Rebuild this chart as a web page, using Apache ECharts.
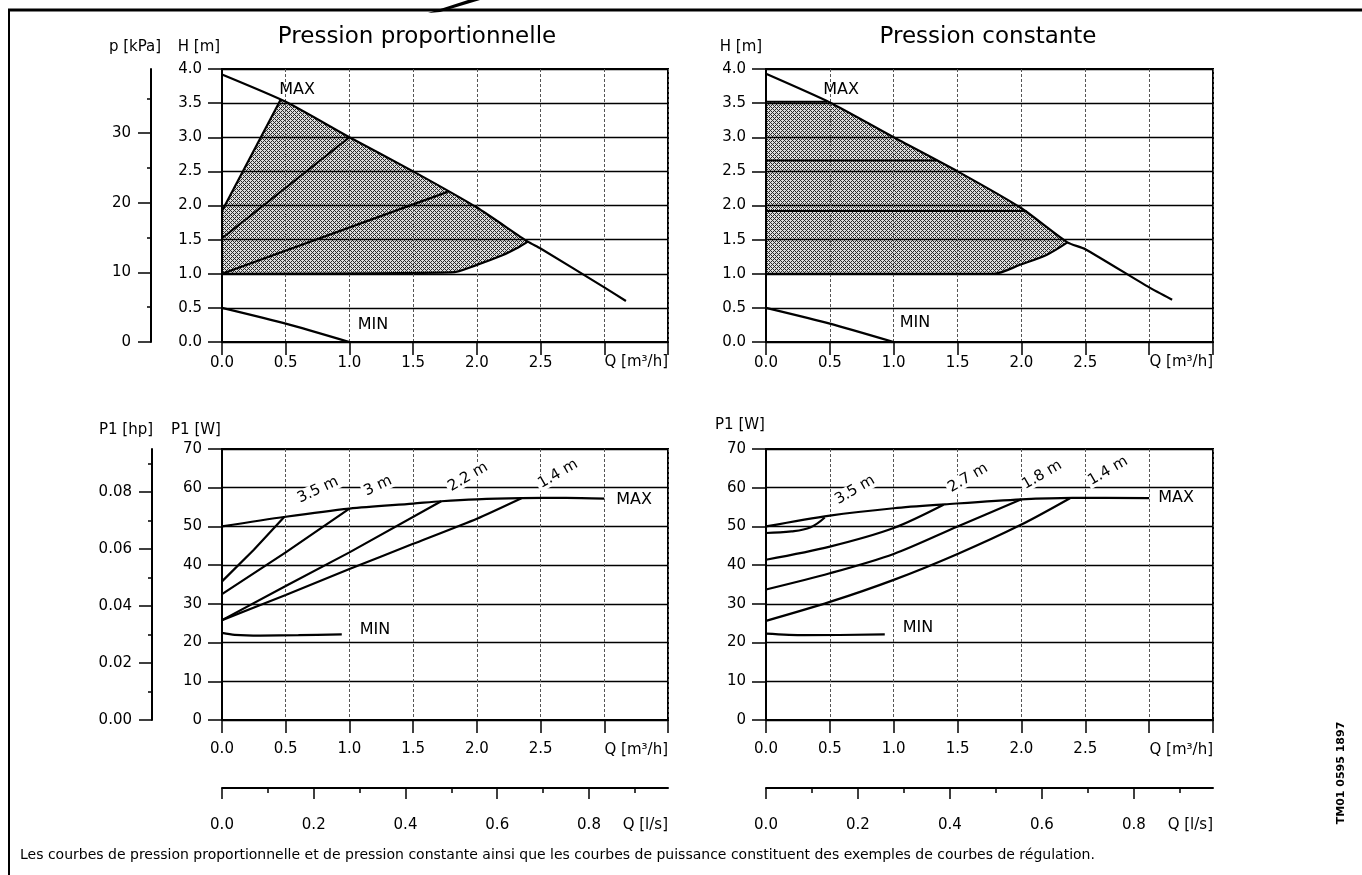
<!DOCTYPE html>
<html><head><meta charset="utf-8">
<script src="https://cdn.jsdelivr.net/npm/echarts@6/dist/echarts.min.js"></script>
<style>html,body{margin:0;padding:0;background:#fff}#c{width:1362px;height:875px}</style>
</head><body><div id="c"></div><script>
// ---------- DATA ----------
// Q in m3/h ; H in m ; P1 in W
const qLabels = ['0.0','0.5','1.0','1.5','2.0','2.5'];
const lsLabels = ['0.0','0.2','0.4','0.6','0.8'];
const kPaTicks = [0,10,20,30];
const kPaMinor = [5,15,25,35];
const hpTicks = [0,0.02,0.04,0.06,0.08];
const hpMinor = [0.01,0.03,0.05,0.07,0.09];
const lsTicks = [0,0.2,0.4,0.6,0.8];
const lsMinor = [0.1,0.3,0.5,0.7,0.9];

// Pression proportionnelle (H)
const ppMax = [[0,3.92],[0.5,3.52],[1.0,3.0],[1.5,2.5],[2.0,1.97],[2.4,1.47],[2.5,1.37],[3.0,0.8],[3.17,0.6]];
const ppMin = [[0,0.5],[0.5,0.27],[1.0,0.0]];
const pp35 = [[0,1.92],[0.46,3.55]];
const pp30 = [[0,1.52],[1.0,3.0]];
const pp22 = [[0,1.0],[1.77,2.2]];
const ppLow = [[0,1.0],[1.8,1.02],[2.0,1.13],[2.2,1.27],[2.32,1.38],[2.4,1.47]];

// Pression constante (H)
const pcMax = [[0,3.93],[0.5,3.51],[1.0,3.0],[1.5,2.5],[2.0,1.96],[2.36,1.46],[2.5,1.36],[3.0,0.8],[3.18,0.62]];
const pcMin = [[0,0.5],[0.5,0.27],[1.0,0.0]];
const pc35 = [[0,3.52],[0.48,3.52]];
const pc27 = [[0,2.66],[1.34,2.66]];
const pc18 = [[0,1.92],[2.04,1.92]];
const pcLow = [[0,1.0],[1.78,1.0],[2.0,1.14],[2.2,1.28],[2.36,1.46]];

// Power, proportional (W)
const wpMax = [[0,50],[0.5,52.5],[1.0,54.6],[1.5,55.9],[1.72,56.5],[2.0,57.0],[2.35,57.3],[2.7,57.4],[3.0,57.2]];
const wp35 = [[0,35.8],[0.25,44.0],[0.49,52.5]];
const wp30 = [[0,32.5],[0.5,43.3],[1.0,54.6]];
const wp22 = [[0,25.8],[0.5,34.6],[1.0,43.3],[1.72,56.5]];
const wp14 = [[0,25.8],[0.5,32.3],[1.0,39.0],[1.5,45.5],[2.0,52.0],[2.35,57.3]];
const wpMin = [[0,22.5],[0.1,22.0],[0.3,21.8],[0.6,21.9],[0.94,22.1]];

// Power, constant (W)
const wcMax = [[0,50],[0.5,52.8],[1.0,54.7],[1.4,55.7],[2.0,57.0],[2.4,57.4],[3.0,57.3]];
const wc35 = [[0,48.3],[0.2,48.7],[0.35,49.8],[0.46,52.3]];
const wc27 = [[0,41.4],[0.5,44.8],[1.0,49.6],[1.39,55.6]];
const wc18 = [[0,33.7],[0.5,37.9],[1.0,42.9],[1.5,50.0],[2.0,57.0]];
const wc14 = [[0,25.6],[0.5,30.5],[1.0,36.2],[1.5,42.9],[2.0,50.5],[2.38,57.3]];
const wcMin = [[0,22.3],[0.3,21.9],[0.93,22.1]];

// ---------- CHART ----------
const FF = "'DejaVu Sans', 'Liberation Sans', Arial, sans-serif";
const KPA_PER_M = 9.80665, W_PER_HP = 735.5, M3H_PER_LS = 3.6;

function makePattern(){
  const c=document.createElement('canvas'); c.width=4; c.height=4;
  const g=c.getContext('2d'); g.fillStyle='#dcdcdc'; g.fillRect(0,0,4,4);
  g.fillStyle='#2a2a2a';
  for(let x=0;x<4;x++)for(let y=0;y<4;y++){ if((x+y)%4===0||((x-y)%4+4)%4===0) g.fillRect(x,y,1,1);}
  return c;
}
const pat = makePattern();

function between(arr, a, b){ return arr.filter(p=>p[0]>a && p[0]<b); }
const ppRegion = [[0,1.0], pp35[0], pp35[1], ...between(ppMax, pp35[1][0], ppLow[ppLow.length-1][0]), ...ppLow.slice().reverse()];
const pcRegion = [[0,1.0], pc35[0], pc35[1], ...between(pcMax, pc35[1][0], pcLow[pcLow.length-1][0]), ...pcLow.slice().reverse()];

function regionSeries(poly, xi, yi){
  return {type:'custom', xAxisIndex:xi, yAxisIndex:yi, data:[[0,0]], silent:true, z:-1,
    renderItem:(params, api)=>({type:'polygon', shape:{points: poly.map(p=>api.coord(p))},
      style:{fill:{image:pat, repeat:'repeat'}, stroke:null}})};
}
function line(data, xi, yi, smooth, w){
  return {type:'line', data, xAxisIndex:xi, yAxisIndex:yi, symbol:'none', smooth: smooth||false,
    silent:true, lineStyle:{color:'#000', width:w||2.2}, z:3};
}

const lblStyle = {color:'#000', fontSize:15, fontFamily:FF};
function qAxis(gi, margin){
  return {type:'value', gridIndex:gi, min:0, max:3.5, interval:0.5,
    axisLine:{show:true, onZero:false, lineStyle:{color:'#000', width:2}},
    axisTick:{show:true, length:13, lineStyle:{color:'#000', width:1.5}},
    axisLabel:Object.assign({margin, formatter:(v)=>{const i=Math.round(v/0.5); return i<qLabels.length?qLabels[i]:'';}}, lblStyle),
    splitLine:{show:true, lineStyle:{color:'#555', width:1, type:[3,2]}}};
}
function yMain(gi, max, interval, fmt){
  return {type:'value', gridIndex:gi, min:0, max, interval,
    axisLine:{show:true, onZero:false, lineStyle:{color:'#000', width:2}},
    axisTick:{show:true, length:14, lineStyle:{color:'#000', width:1.5}},
    axisLabel:Object.assign({margin:20, formatter:fmt}, lblStyle),
    splitLine:{show:true, lineStyle:{color:'#000', width:1.4}}};
}
function ySecondary(gi, max, ticks, fmt, offset){
  return {type:'value', gridIndex:gi, position:'left', offset, min:0, max,
    axisLine:{show:true, onZero:false, lineStyle:{color:'#000', width:2}},
    axisTick:{show:true, length:13, customValues:ticks, lineStyle:{color:'#000', width:1.5}},
    axisLabel:Object.assign({margin:20, customValues:ticks, formatter:fmt}, lblStyle),
    splitLine:{show:false}};
}
function yMinor(gi, max, ticks, offset){
  return {type:'value', gridIndex:gi, position:'left', offset, min:0, max,
    axisLine:{show:false, onZero:false}, axisLabel:{show:false}, splitLine:{show:false},
    axisTick:{show:true, length:4, customValues:ticks, lineStyle:{color:'#000', width:1.5}}};
}
function xLs(gi, offset){
  return {type:'value', gridIndex:gi, position:'bottom', offset, min:0, max:3.5/M3H_PER_LS,
    axisLine:{show:true, onZero:false, lineStyle:{color:'#000', width:2}},
    axisTick:{show:true, length:11, customValues:lsTicks, lineStyle:{color:'#000', width:1.5}},
    axisLabel:Object.assign({margin:30, customValues:lsTicks, formatter:(v)=>lsLabels[Math.round(v/0.2)]}, lblStyle),
    splitLine:{show:false}};
}
function xLsMinor(gi, offset){
  return {type:'value', gridIndex:gi, position:'bottom', offset, min:0, max:3.5/M3H_PER_LS,
    axisLine:{show:false, onZero:false}, axisLabel:{show:false}, splitLine:{show:false},
    axisTick:{show:true, length:5, customValues:lsMinor, lineStyle:{color:'#000', width:1.5}}};
}

function T(text, x, y, size, opts){
  opts = opts||{};
  return Object.assign({type:'text', x, y, z:100, rotation:opts.rot||0,
    style:{text, fontSize:size, fontFamily:FF, fontWeight:opts.bold?'bold':'normal', fill:'#000',
      align:opts.align||'center', textAlign:opts.align||'center', verticalAlign:'middle', textVerticalAlign:'middle',
      backgroundColor:opts.bg||null, padding:opts.bg?[0,2]:0}});
}
const deg = Math.PI/180;

const option = {
  animation:false,
  backgroundColor:'#fff',
  grid:[
    {left:222, top:69, width:446, height:273, show:true, borderColor:'#000', borderWidth:2},
    {left:766, top:69, width:447, height:273, show:true, borderColor:'#000', borderWidth:2},
    {left:222, top:449, width:446, height:271, show:true, borderColor:'#000', borderWidth:2},
    {left:766, top:449, width:447, height:271, show:true, borderColor:'#000', borderWidth:2}
  ],
  xAxis:[ qAxis(0,14), qAxis(1,14), qAxis(2,22), qAxis(3,22), xLs(2,68), xLsMinor(2,68), xLs(3,68), xLsMinor(3,68) ],
  yAxis:[
    yMain(0,4,0.5,v=>v.toFixed(1)), yMain(1,4,0.5,v=>v.toFixed(1)),
    yMain(2,70,10,v=>String(v)), yMain(3,70,10,v=>String(v)),
    ySecondary(0, 4*KPA_PER_M, kPaTicks, v=>String(Math.round(v)), 71),
    yMinor(0, 4*KPA_PER_M, kPaMinor, 71),
    ySecondary(2, 70/W_PER_HP, hpTicks, v=>v.toFixed(2), 70),
    yMinor(2, 70/W_PER_HP, hpMinor, 70)
  ],
  series:[
    regionSeries(ppRegion,0,0), regionSeries(pcRegion,1,1),
    line(ppMax,0,0,0.2), line(ppMin,0,0,0.2), line(pp35,0,0), line(pp30,0,0), line(pp22,0,0), line(ppLow,0,0,0.3),
    line(pcMax,1,1,0.2), line(pcMin,1,1,0.2), line(pc35,1,1,false,2), line(pc27,1,1,false,2), line(pc18,1,1,false,2), line(pcLow,1,1,0.3),
    line(wpMax,2,2,0.3), line(wp35,2,2), line(wp30,2,2), line(wp22,2,2), line(wp14,2,2,0.2), line(wpMin,2,2,0.3),
    line(wcMax,3,3,0.3), line(wc35,3,3,0.4), line(wc27,3,3,0.3), line(wc18,3,3,0.3), line(wc14,3,3,0.3), line(wcMin,3,3,0.3)
  ],
  graphic:[
    // frame
    {type:'line', z:100, shape:{x1:8,y1:10,x2:1362,y2:10}, style:{stroke:'#000', lineWidth:3}},
    {type:'line', z:100, shape:{x1:9,y1:9,x2:9,y2:875}, style:{stroke:'#000', lineWidth:2}},
    {type:'polygon', z:100, shape:{points:[[428,13],[468,0],[480,0],[440,12]]}, style:{fill:'#000'}},
    // titles
    T('Pression proportionnelle', 417, 37, 23),
    T('Pression constante', 988, 37, 23),
    // axis names
    T('p [kPa]', 135, 47, 15), T('H [m]', 199, 47, 15), T('H [m]', 741, 47, 15),
    T('P1 [hp]', 126, 430, 15), T('P1 [W]', 196, 430, 15), T('P1 [W]', 740, 425, 15),
    T('Q [m³/h]', 668, 362, 15, {align:'right'}), T('Q [m³/h]', 1213, 362, 15, {align:'right'}),
    T('Q [m³/h]', 668, 750, 15, {align:'right'}), T('Q [m³/h]', 1213, 750, 15, {align:'right'}),
    T('Q [l/s]', 668, 825, 15, {align:'right'}), T('Q [l/s]', 1213, 825, 15, {align:'right'}),
    // MAX / MIN
    T('MAX', 297, 90, 16), T('MIN', 373, 325, 16),
    T('MAX', 841, 90, 16), T('MIN', 915, 323, 16),
    T('MAX', 634, 500, 16), T('MIN', 375, 630, 16),
    T('MAX', 1176, 498, 16), T('MIN', 918, 628, 16),
    // curve labels
    T('3.5 m', 318, 490, 15, {rot:25*deg, bg:'#fff'}), T('3 m', 378, 486, 15, {rot:25*deg, bg:'#fff'}),
    T('2.2 m', 468, 477, 15, {rot:30*deg, bg:'#fff'}), T('1.4 m', 558, 474, 15, {rot:30*deg, bg:'#fff'}),
    T('3.5 m', 855, 490, 15, {rot:30*deg, bg:'#fff'}), T('2.7 m', 968, 478, 15, {rot:30*deg, bg:'#fff'}),
    T('1.8 m', 1042, 475, 15, {rot:30*deg, bg:'#fff'}), T('1.4 m', 1108, 471, 15, {rot:30*deg, bg:'#fff'}),
    // footer
    T('Les courbes de pression proportionnelle et de pression constante ainsi que les courbes de puissance constituent des exemples de courbes de régulation.', 20, 855, 14, {align:'left'}),
    T('TM01 0595 1897', 1341, 773, 11, {rot:90*deg, bold:true})
  ]
};
const chart = echarts.init(document.getElementById('c'), null, {renderer:'canvas'});
chart.setOption(option);
</script></body></html>
